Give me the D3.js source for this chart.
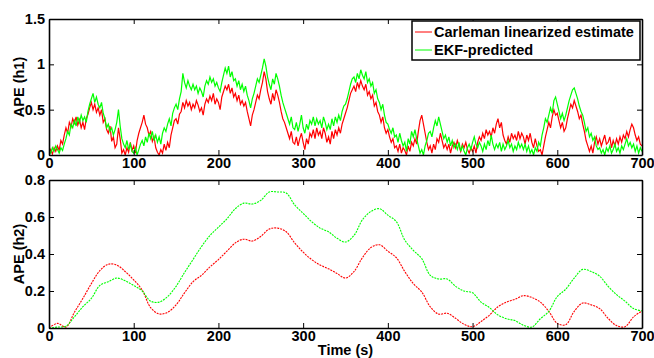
<!DOCTYPE html>
<html>
<head>
<meta charset="utf-8">
<script src="https://cdn.jsdelivr.net/npm/d3@7"></script>
<style>
  body { margin: 0; background: #fff; }
  svg { font-family: "Liberation Sans", Arial, sans-serif; font-weight: bold; }
</style>
</head>
<body>
<script>
// ---- data ----
const xTicks = [0, 100, 200, 300, 400, 500, 600, 700];
const h1Ticks = [0, 0.5, 1, 1.5];
const h2Ticks = [0, 0.2, 0.4, 0.6, 0.8];
const seriesNames = ["Carleman linearized estimate", "EKF-predicted"];

// APE (h1), one sample every 2 s
const h1Carleman = [
    0.02, 0.06, 0.01, 0.08, 0.04, 0.10, 0.05, 0.16, 0.12, 0.22,
    0.30, 0.24, 0.36, 0.31, 0.40, 0.35, 0.42, 0.33, 0.39, 0.30,
    0.36, 0.28, 0.40, 0.45, 0.52, 0.58, 0.50, 0.56, 0.47, 0.52,
    0.44, 0.50, 0.36, 0.40, 0.28, 0.24, 0.32, 0.15, 0.20, 0.08,
    0.12, 0.30, 0.18, 0.02, 0.06, 0.00, 0.08, 0.03, 0.14, 0.05,
    0.10, 0.02, 0.16, 0.24, 0.30, 0.36, 0.44, 0.34, 0.30, 0.22,
    0.26, 0.15, 0.20, 0.08, 0.03, 0.00, 0.06, 0.02, 0.12, 0.05,
    0.14, 0.08, 0.22, 0.30, 0.38, 0.40, 0.34, 0.45, 0.48, 0.58,
    0.52, 0.60, 0.54, 0.58, 0.50, 0.56, 0.52, 0.60, 0.55, 0.48,
    0.52, 0.44, 0.56, 0.62, 0.58, 0.65, 0.60, 0.68, 0.56, 0.62,
    0.58, 0.50, 0.64, 0.70, 0.76, 0.72, 0.78, 0.68, 0.74, 0.64,
    0.68, 0.60, 0.66, 0.56, 0.60, 0.54, 0.58, 0.48, 0.40, 0.32,
    0.44, 0.50, 0.58, 0.66, 0.62, 0.72, 0.80, 0.92, 0.84, 0.70,
    0.62, 0.56, 0.68, 0.60, 0.72, 0.66, 0.58, 0.48, 0.40, 0.36,
    0.30, 0.24, 0.18, 0.26, 0.14, 0.12, 0.20, 0.10, 0.18, 0.24,
    0.14, 0.06, 0.18, 0.12, 0.24, 0.20, 0.28, 0.18, 0.30, 0.22,
    0.26, 0.18, 0.30, 0.24, 0.14, 0.20, 0.12, 0.26, 0.18, 0.28,
    0.22, 0.30, 0.24, 0.34, 0.40, 0.46, 0.52, 0.60, 0.68, 0.72,
    0.76, 0.70, 0.80, 0.74, 0.82, 0.76, 0.72, 0.78, 0.66, 0.70,
    0.62, 0.66, 0.54, 0.58, 0.48, 0.44, 0.36, 0.42, 0.30, 0.24,
    0.28, 0.20, 0.14, 0.18, 0.08, 0.10, 0.04, 0.12, 0.02, 0.08,
    0.05, 0.00, 0.10, 0.04, 0.14, 0.10, 0.18, 0.12, 0.26, 0.38,
    0.44, 0.34, 0.24, 0.14, 0.06, 0.10, 0.02, 0.12, 0.06, 0.18,
    0.14, 0.24, 0.16, 0.08, 0.12, 0.06, 0.12, 0.02, 0.10, 0.14,
    0.08, 0.16, 0.10, 0.04, 0.12, 0.08, 0.14, 0.06, 0.02, 0.08,
    0.04, 0.10, 0.02, 0.14, 0.20, 0.16, 0.24, 0.18, 0.28, 0.22,
    0.26, 0.20, 0.30, 0.24, 0.34, 0.40, 0.30, 0.36, 0.22, 0.16,
    0.12, 0.20, 0.14, 0.24, 0.18, 0.22, 0.16, 0.26, 0.18, 0.24,
    0.20, 0.12, 0.22, 0.16, 0.24, 0.14, 0.08, 0.18, 0.10, 0.04,
    0.06, 0.00, 0.10, 0.20, 0.28, 0.36, 0.30, 0.42, 0.50, 0.44,
    0.46, 0.38, 0.30, 0.36, 0.26, 0.30, 0.40, 0.48, 0.56, 0.52,
    0.60, 0.54, 0.48, 0.40, 0.44, 0.34, 0.26, 0.16, 0.10, 0.04,
    0.10, 0.02, 0.14, 0.20, 0.12, 0.18, 0.10, 0.16, 0.22, 0.12,
    0.14, 0.20, 0.08, 0.16, 0.10, 0.18, 0.12, 0.20, 0.14, 0.22,
    0.18, 0.26, 0.20, 0.28, 0.34, 0.30, 0.22, 0.16, 0.20, 0.12,
    0.10
];
const h1Ekf = [
    0.05, 0.02, 0.08, 0.04, 0.10, 0.06, 0.02, 0.08, 0.05, 0.12,
    0.18, 0.26, 0.22, 0.34, 0.30, 0.38, 0.32, 0.42, 0.36, 0.44,
    0.38, 0.42, 0.36, 0.48, 0.56, 0.62, 0.68, 0.58, 0.64, 0.56,
    0.52, 0.58, 0.46, 0.40, 0.30, 0.34, 0.26, 0.30, 0.22, 0.28,
    0.36, 0.50, 0.32, 0.18, 0.12, 0.08, 0.16, 0.06, 0.12, 0.04,
    0.02, 0.08, 0.00, 0.06, 0.12, 0.16, 0.10, 0.20, 0.14, 0.24,
    0.18, 0.26, 0.16, 0.22, 0.14, 0.20, 0.12, 0.24, 0.30, 0.26,
    0.34, 0.40, 0.32, 0.46, 0.52, 0.56, 0.50, 0.62, 0.70, 0.90,
    0.80, 0.74, 0.82, 0.76, 0.72, 0.78, 0.72, 0.76, 0.68, 0.74,
    0.70, 0.64, 0.76, 0.82, 0.78, 0.86, 0.80, 0.84, 0.76, 0.80,
    0.74, 0.70, 0.80, 0.88, 0.96, 0.90, 0.98, 0.86, 0.92, 0.82,
    0.84, 0.76, 0.82, 0.72, 0.78, 0.70, 0.76, 0.66, 0.60, 0.52,
    0.62, 0.68, 0.76, 0.84, 0.80, 0.88, 0.96, 1.06, 0.98, 0.86,
    0.78, 0.72, 0.84, 0.78, 0.90, 0.84, 0.76, 0.66, 0.58, 0.52,
    0.46, 0.40, 0.34, 0.42, 0.30, 0.28, 0.36, 0.26, 0.34, 0.44,
    0.30, 0.24, 0.34, 0.28, 0.38, 0.34, 0.42, 0.32, 0.40, 0.34,
    0.38, 0.30, 0.42, 0.36, 0.28, 0.34, 0.28, 0.40, 0.32, 0.42,
    0.36, 0.44, 0.38, 0.48, 0.54, 0.56, 0.62, 0.70, 0.78, 0.84,
    0.86, 0.80, 0.90, 0.84, 0.94, 0.88, 0.84, 0.92, 0.80, 0.84,
    0.76, 0.80, 0.68, 0.72, 0.62, 0.58, 0.50, 0.56, 0.44, 0.36,
    0.34, 0.28, 0.24, 0.30, 0.20, 0.22, 0.14, 0.24, 0.16, 0.10,
    0.14, 0.04, 0.18, 0.12, 0.26, 0.20, 0.28, 0.18, 0.10, 0.02,
    0.06, 0.00, 0.10, 0.16, 0.24, 0.26, 0.20, 0.30, 0.38, 0.32,
    0.42, 0.34, 0.26, 0.18, 0.22, 0.14, 0.20, 0.10, 0.16, 0.08,
    0.12, 0.06, 0.14, 0.04, 0.10, 0.04, 0.00, 0.08, 0.12, 0.06,
    0.14, 0.20, 0.12, 0.08, 0.14, 0.10, 0.04, 0.12, 0.06, 0.16,
    0.10, 0.22, 0.12, 0.06, 0.12, 0.08, 0.14, 0.04, 0.12, 0.06,
    0.10, 0.16, 0.08, 0.12, 0.04, 0.10, 0.06, 0.14, 0.08, 0.12,
    0.06, 0.12, 0.04, 0.10, 0.02, 0.06, 0.00, 0.08, 0.04, 0.14,
    0.10, 0.22, 0.30, 0.40, 0.36, 0.44, 0.52, 0.46, 0.60, 0.64,
    0.56, 0.48, 0.40, 0.46, 0.38, 0.44, 0.52, 0.60, 0.66, 0.72,
    0.74, 0.68, 0.62, 0.54, 0.48, 0.44, 0.36, 0.26, 0.30, 0.20,
    0.24, 0.16, 0.20, 0.10, 0.06, 0.08, 0.02, 0.06, 0.00, 0.08,
    0.04, 0.10, 0.02, 0.06, 0.12, 0.04, 0.08, 0.02, 0.10, 0.06,
    0.12, 0.18, 0.10, 0.14, 0.08, 0.12, 0.04, 0.10, 0.02, 0.08,
    0.04
];

// APE (h2), one sample every 10 s
const h2Carleman = [
    0.000, 0.025, 0.005, 0.085, 0.160, 0.240, 0.310, 0.345, 0.340, 0.305,
    0.260, 0.205, 0.110, 0.076, 0.085, 0.125, 0.190, 0.250, 0.285, 0.330,
    0.370, 0.415, 0.460, 0.480, 0.470, 0.495, 0.535, 0.540, 0.520, 0.460,
    0.410, 0.370, 0.340, 0.320, 0.295, 0.270, 0.305, 0.380, 0.435, 0.450,
    0.415, 0.380, 0.305, 0.240, 0.195, 0.115, 0.075, 0.080, 0.052, 0.020,
    0.007, 0.035, 0.070, 0.115, 0.140, 0.155, 0.175, 0.165, 0.140, 0.090,
    0.025, 0.018, 0.090, 0.135, 0.125, 0.105, 0.052, 0.013, 0.007, 0.060,
    0.092
];
const h2Ekf = [
    0.000, 0.005, 0.010, 0.060, 0.115, 0.160, 0.230, 0.250, 0.270, 0.255,
    0.230, 0.200, 0.145, 0.140, 0.170, 0.225, 0.300, 0.370, 0.440, 0.500,
    0.545, 0.590, 0.645, 0.675, 0.670, 0.690, 0.735, 0.735, 0.730, 0.665,
    0.620, 0.575, 0.540, 0.520, 0.485, 0.465, 0.500, 0.585, 0.630, 0.645,
    0.610, 0.575, 0.475, 0.420, 0.375, 0.285, 0.265, 0.265, 0.225, 0.200,
    0.190, 0.140, 0.110, 0.070, 0.050, 0.040, 0.015, 0.005, 0.050, 0.090,
    0.170, 0.210, 0.270, 0.317, 0.305, 0.280, 0.225, 0.180, 0.145, 0.105,
    0.092
];

// ---- layout ----
const W = 654, H = 358;
const left = 49, right = 642;
const colors = ["#ff0000", "#00ff00"];
const fontSize = "14.5px";

const svg = d3.select("body").append("svg")
    .attr("width", W)
    .attr("height", H);

const x = d3.scaleLinear().domain([0, 700]).range([left, right]);

function drawPanel(id, top, bottom, yMax, yTicks, yLabel, series, step, opts) {
    const y = d3.scaleLinear().domain([0, yMax]).range([bottom, top]);
    const g = svg.append("g");

    g.append("clipPath").attr("id", "clip-" + id)
        .append("rect")
        .attr("x", left).attr("y", top - 1)
        .attr("width", right - left).attr("height", bottom - top + 1);

    const line = d3.line()
        .x((d, i) => x(i * step))
        .y(d => y(d))
        .curve(opts.curve);

    series.forEach((s, k) => {
        g.append("path")
            .datum(s)
            .attr("clip-path", `url(#clip-${id})`)
            .attr("fill", "none")
            .attr("stroke", colors[k])
            .attr("stroke-width", opts.width)
            .attr("stroke-dasharray", opts.dash)
            .attr("d", line);
    });

    // box axes, ticks inside like matlab
    const axB = g.append("g").attr("transform", `translate(0,${bottom})`)
        .call(d3.axisBottom(x).tickValues(xTicks).tickSize(-5).tickSizeOuter(0).tickPadding(3));
    const axT = g.append("g").attr("transform", `translate(0,${top})`)
        .call(d3.axisTop(x).tickValues(xTicks).tickSize(-5).tickSizeOuter(0).tickFormat(""));
    const axL = g.append("g").attr("transform", `translate(${left},0)`)
        .call(d3.axisLeft(y).tickValues(yTicks).tickSize(-5).tickSizeOuter(0).tickPadding(4)
            .tickFormat(d3.format("~g")));
    const axR = g.append("g").attr("transform", `translate(${right},0)`)
        .call(d3.axisRight(y).tickValues(yTicks).tickSize(-5).tickSizeOuter(0).tickFormat(""));

    [axB, axT, axL, axR].forEach(a => {
        a.select(".domain").attr("stroke", "#000").attr("stroke-width", 1.6);
        a.selectAll(".tick line").attr("stroke", "#000");
        a.selectAll("text")
            .attr("fill", "#000")
            .style("font-size", fontSize)
            .style("font-family", "'Liberation Sans', Arial, sans-serif")
            .style("font-weight", "bold");
    });

    g.append("text")
        .attr("transform", `translate(24,${(top + bottom) / 2}) rotate(-90)`)
        .attr("text-anchor", "middle")
        .style("font-size", fontSize)
        .text(yLabel);

    return g;
}

drawPanel("h1", 19, 155, 1.5, h1Ticks, "APE (h1)", [h1Carleman, h1Ekf], 2,
    { curve: d3.curveLinear, width: 1.2, dash: null });
drawPanel("h2", 180, 328, 0.8, h2Ticks, "APE (h2)", [h2Carleman, h2Ekf], 10,
    { curve: d3.curveCatmullRom, width: 1.1, dash: "2,1" });

svg.append("text")
    .attr("x", (left + right) / 2)
    .attr("y", 355)
    .attr("text-anchor", "middle")
    .style("font-size", fontSize)
    .text("Time (s)");

// legend
const legend = svg.append("g");
legend.append("rect")
    .attr("x", 412).attr("y", 21)
    .attr("width", 228).attr("height", 39)
    .attr("fill", "#fff")
    .attr("stroke", "#000")
    .attr("stroke-width", 1.5);

seriesNames.forEach((name, k) => {
    const ly = 32 + k * 18;
    legend.append("line")
        .attr("x1", 415).attr("x2", 432)
        .attr("y1", ly).attr("y2", ly)
        .attr("stroke", colors[k])
        .attr("stroke-width", 1);
    legend.append("text")
        .attr("x", 434)
        .attr("y", ly + 5)
        .style("font-size", fontSize)
        .text(name);
});
</script>
</body>
</html>
